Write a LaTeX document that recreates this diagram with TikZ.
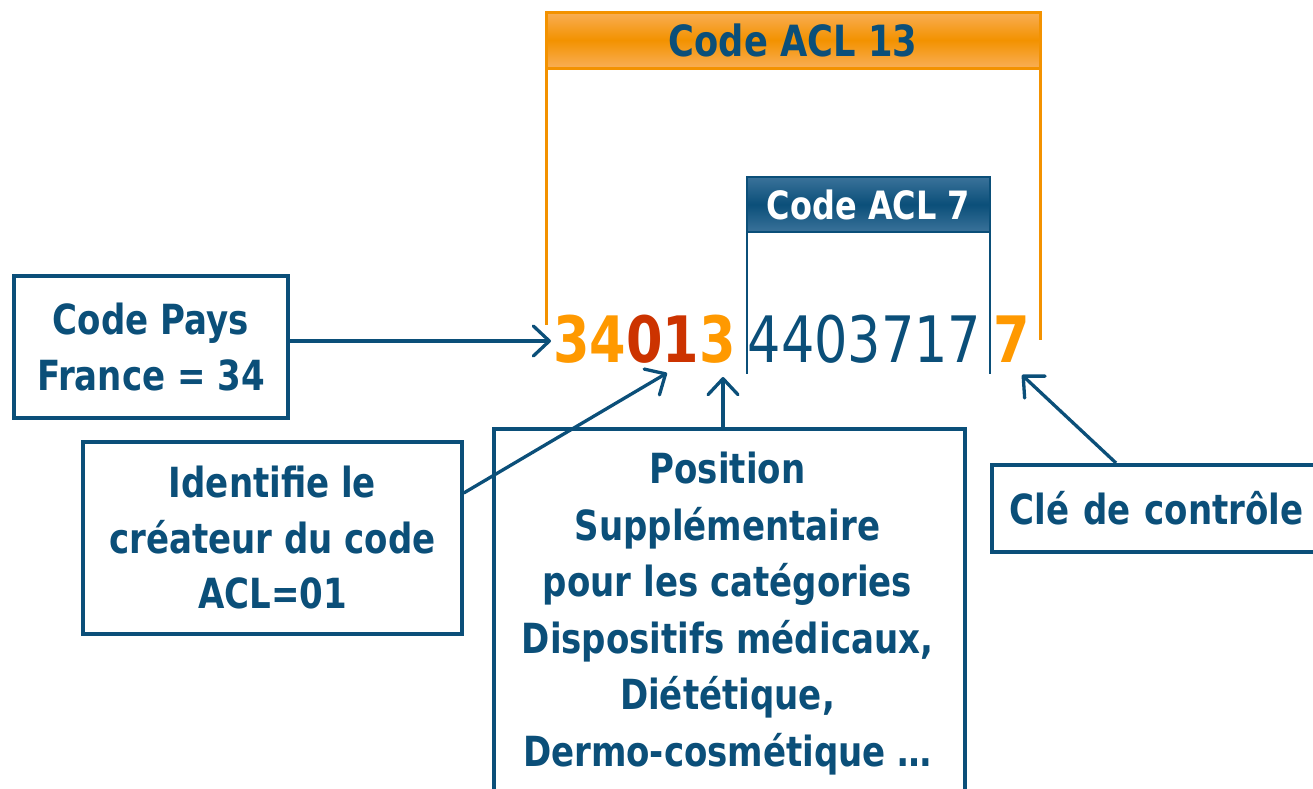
\documentclass[tikz,border=0pt]{standalone}
\usepackage{fontspec}
\newfontfamily\tah[FakeStretch=0.82]{DejaVu Sans}
\usetikzlibrary{arrows.meta}
\definecolor{acblue}{HTML}{0B4F79}
\definecolor{acblueL}{HTML}{3A729A}
\definecolor{acorange}{HTML}{F39200}
\definecolor{acorangeL}{HTML}{F9AE55}
\definecolor{acdigit}{HTML}{FF9900}
\definecolor{acred}{HTML}{CC3300}
\begin{document}
\begin{tikzpicture}[x=1pt,y=-1pt,
  box/.style={draw=acblue, line width=3.5pt, fill=white, text=acblue,
    font=\tah\bfseries\fontsize{41.5}{55.5}\selectfont, align=center, inner sep=0pt},
  conn/.style={draw=acblue, line width=3.3pt,
    -{Straight Barb[length=16pt,width=30pt,round]}},
  digitbig/.style={anchor=base west, inner sep=0pt, font=\tah\bfseries\fontsize{64}{64}\selectfont},
  digitthin/.style={anchor=base west, inner sep=0pt, font=\tah\fontsize{64}{64}\selectfont},
  bracketO/.style={draw=acorange, line width=3pt},
  bracketB/.style={draw=acblue, line width=2pt}]
\useasboundingbox (0,0) rectangle (1313,788);
\clip (0,0) rectangle (1313,788);

% headers
\node[draw=acorange, line width=3pt, top color=acorangeL, bottom color=acorangeL, middle color=acorange,
  minimum width=494pt, minimum height=56pt, inner sep=0pt, text=acblue,
  font=\tah\bfseries\fontsize{43}{43}\selectfont] (h13) at (793,40) {Code ACL 13};
\draw[bracketO] ([xshift=1.5pt]h13.south west) -- ++(0,255);
\draw[bracketO] ([xshift=-1.5pt]h13.south east) -- ++(0,270);

\node[draw=acblue, line width=2pt, top color=acblueL, bottom color=acblueL, middle color=acblue,
  minimum width=243pt, minimum height=55pt, inner sep=0pt, text=white,
  font=\tah\bfseries\fontsize{39}{39}\selectfont] (h7) at (868.5,204.5) {Code ACL 7};
\draw[bracketB] ([xshift=1pt]h7.south west) -- ++(0,141);
\draw[bracketB] ([xshift=-1pt]h7.south east) -- ++(0,141);

% digits
\node[digitbig] (dA) at (553,362) {\textcolor{acdigit}{34}\textcolor{acred}{01}\textcolor{acdigit}{3}};
\node[digitthin, text=acblue] (dB) at (747.5,362) {4403717};
\node[digitbig, text=acdigit] (dC) at (993,362) {7};

% boxes
\node[box, minimum width=274pt, minimum height=142pt] (pays) at (151,347) {Code Pays\\France = 34};
\node[box, minimum width=379pt, minimum height=192pt] (ident) at (272.5,538) {Identifie le\\créateur du code\\ACL=01};
\node[box, anchor=north west, minimum width=471pt, minimum height=400pt] (pos) at (492,427) {};
\node[anchor=north, inner sep=0pt, text=acblue, align=center,
  font=\tah\bfseries\fontsize{41.5}{56.5}\selectfont] (postext) at (727.5,452)
  {Position\\Supplémentaire\\pour les catégories\\Dispositifs médicaux,\\Diététique,\\Dermo-cosmétique …};
\node[box, anchor=north west, minimum height=87pt, text width=330pt, align=left, inner xsep=18pt] (cle) at (990,463) {Clé de contrôle};

% connectors
\coordinate (tipA) at (551,341);
\coordinate (tipB) at (667,373);
\coordinate (tipC) at (723,377);
\coordinate (tipD) at (1022,375);
\draw[conn] ([yshift=6pt]pays.east) -- (tipA);
\draw[conn] ([yshift=45pt]ident.east) -- (tipB);
\draw[conn] (tipC |- pos.north) -- (tipC);
\draw[conn] ([xshift=126pt]cle.north west) -- (tipD);
\end{tikzpicture}
\end{document}
